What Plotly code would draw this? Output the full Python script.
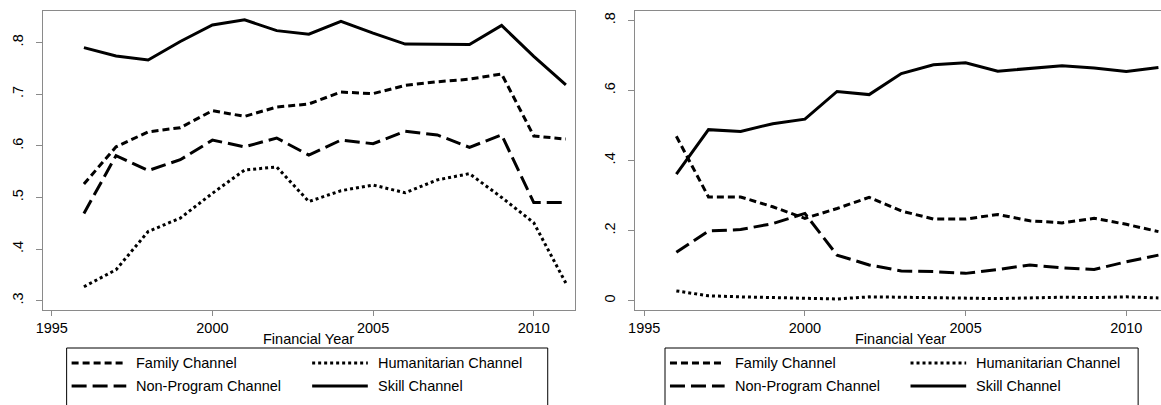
import plotly.graph_objects as go

years = list(range(1996, 2012))
series_names = ["Family Channel", "Humanitarian Channel", "Non-Program Channel", "Skill Channel"]
x_title = "Financial Year"

# Left panel
left_family = [0.526, 0.598, 0.627, 0.635, 0.668, 0.657, 0.675, 0.681, 0.704, 0.701, 0.717, 0.724, 0.729, 0.739, 0.619, 0.613]
left_humanitarian = [0.327, 0.360, 0.434, 0.460, 0.508, 0.553, 0.559, 0.492, 0.513, 0.524, 0.509, 0.534, 0.546, 0.500, 0.451, 0.334]
left_nonprogram = [0.469, 0.581, 0.552, 0.573, 0.611, 0.598, 0.615, 0.582, 0.611, 0.604, 0.628, 0.621, 0.597, 0.621, 0.490, 0.490]
left_skill = [0.790, 0.774, 0.766, 0.802, 0.834, 0.844, 0.823, 0.816, 0.841, 0.818, 0.797, 0.797, 0.796, 0.833, 0.773, 0.718]

# Right panel
right_family = [0.469, 0.296, 0.296, 0.268, 0.235, 0.263, 0.295, 0.256, 0.233, 0.233, 0.246, 0.228, 0.222, 0.235, 0.218, 0.197]
right_humanitarian = [0.028, 0.014, 0.011, 0.010, 0.007, 0.005, 0.011, 0.010, 0.009, 0.008, 0.006, 0.008, 0.010, 0.009, 0.011, 0.008]
right_nonprogram = [0.138, 0.199, 0.203, 0.220, 0.249, 0.130, 0.102, 0.085, 0.083, 0.078, 0.089, 0.102, 0.094, 0.089, 0.111, 0.130]
right_skill = [0.361, 0.488, 0.483, 0.505, 0.518, 0.597, 0.588, 0.648, 0.673, 0.679, 0.655, 0.662, 0.670, 0.664, 0.654, 0.665]

x_ticks = [1995, 2000, 2005, 2010]
left_y_ticks = [0.3, 0.4, 0.5, 0.6, 0.7, 0.8]
left_y_labels = [".3", ".4", ".5", ".6", ".7", ".8"]
right_y_ticks = [0, 0.2, 0.4, 0.6, 0.8]
right_y_labels = ["0", ".2", ".4", ".6", ".8"]

W, H = 1161, 405
FONT = "Liberation Sans, Arial, sans-serif"
FS = 14.5
FRAME = "#8a8a8a"

dashes = {
    "Family Channel": "7px,4px",
    "Humanitarian Channel": "3px,3px",
    "Non-Program Channel": "15px,6px",
    "Skill Channel": "solid",
}

fig = go.Figure()

panels = [
    ("x", "y", [left_family, left_humanitarian, left_nonprogram, left_skill]),
    ("x2", "y2", [right_family, right_humanitarian, right_nonprogram, right_skill]),
]
for xa, ya, vals in panels:
    for name, v in zip(series_names, vals):
        fig.add_trace(go.Scatter(
            x=years, y=v, mode="lines", name=name, showlegend=False,
            line=dict(color="black", width=3, dash=dashes[name]),
            xaxis=xa, yaxis=ya,
        ))

def px_x(p):
    return p / W

def px_y(p):
    return 1 - p / H

ydom = [px_y(310), px_y(11)]
common_x = dict(
    tickvals=x_ticks, ticks="outside", ticklen=5, tickcolor=FRAME, tickwidth=1,
    showgrid=False, zeroline=False, showline=True, linecolor=FRAME, linewidth=1,
    tickfont=dict(family=FONT, size=FS, color="black"),
)
common_y = dict(
    ticks="outside", ticklen=6, tickcolor=FRAME, tickwidth=1, tickangle=-90,
    ticklabelstandoff=7,
    showgrid=False, zeroline=False, showline=True, linecolor=FRAME, linewidth=1,
    tickfont=dict(family=FONT, size=FS, color="black"),
)

fig.update_layout(
    width=W, height=H,
    margin=dict(l=0, r=0, t=0, b=0),
    paper_bgcolor="white", plot_bgcolor="white",
    xaxis=dict(domain=[px_x(36), px_x(571)], range=[1994.72, 2011.27], anchor="y", mirror=True, **common_x),
    yaxis=dict(domain=ydom, range=[0.282, 0.861], anchor="x", mirror=True,
               tickvals=left_y_ticks, ticktext=left_y_labels, **common_y),
    xaxis2=dict(domain=[px_x(631.7), 1.0], range=[1994.71, 2011.08], anchor="y2", mirror=True, **common_x),
    yaxis2=dict(domain=ydom, range=[-0.0265, 0.8265], anchor="x2", mirror=False,
                tickvals=right_y_ticks, ticktext=right_y_labels, **common_y),
    showlegend=False,
)

shapes = []
annotations = []

# Axis titles (right panel is cropped at the page edge, so centre on its full frame)
for cx in (303.5, 899.4):
    annotations.append(dict(text=x_title, xref="paper", yref="paper",
                            x=px_x(cx), y=px_y(339), xanchor="center", yanchor="middle",
                            showarrow=False, font=dict(family=FONT, size=FS, color="black")))

# Manual legends (Stata-style long samples)
legend_boxes = [(60, 544), (662, 1138)]
legend_top = 348
row_y = [363, 386]
cols = [(5, 60, 68), (247, 303, 311)]
order = [["Family Channel", "Humanitarian Channel"], ["Non-Program Channel", "Skill Channel"]]
for bx0, bx1 in legend_boxes:
    shapes.append(dict(type="rect", xref="paper", yref="paper",
                       x0=px_x(bx0), x1=px_x(bx1), y0=px_y(412), y1=px_y(legend_top),
                       line=dict(color="black", width=1), fillcolor="rgba(0,0,0,0)"))
    for r, names in enumerate(order):
        for c, name in enumerate(names):
            s0, s1, t0 = cols[c]
            shapes.append(dict(type="line", xref="paper", yref="paper",
                               x0=px_x(bx0 + s0), x1=px_x(bx0 + s1),
                               y0=px_y(row_y[r]), y1=px_y(row_y[r]),
                               line=dict(color="black", width=3, dash=dashes[name])))
            annotations.append(dict(text=name, xref="paper", yref="paper",
                                    x=px_x(bx0 + t0), y=px_y(row_y[r]),
                                    xanchor="left", yanchor="middle", showarrow=False,
                                    font=dict(family=FONT, size=FS, color="black")))

fig.update_layout(shapes=shapes, annotations=annotations)
fig.write_html("out.html",
               config={"displayModeBar": False},
               post_script="document.body.style.margin='0';document.body.style.overflow='hidden';")
